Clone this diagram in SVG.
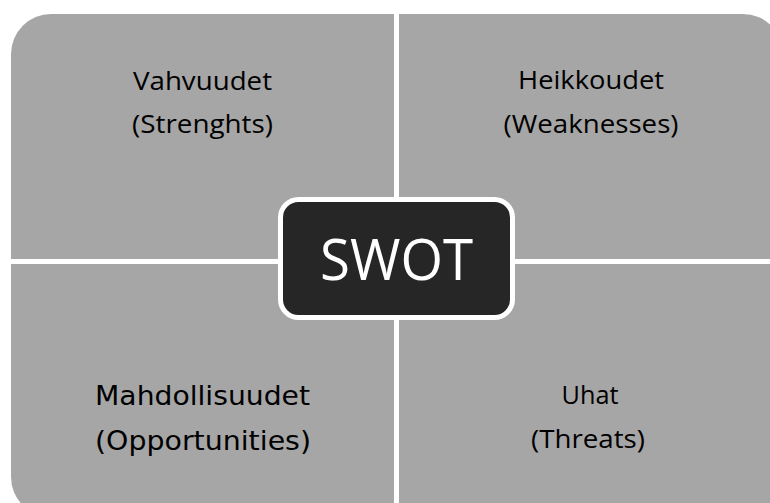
<svg xmlns="http://www.w3.org/2000/svg" width="770" height="503" viewBox="0 0 770 503">
<style>
.q{fill:#A6A6A6;}
.lbl{font-family:"Open Sans","DejaVu Sans",sans-serif;font-size:25px;fill:#000;text-anchor:middle;}
.lbl2{font-family:"DejaVu Sans","Open Sans",sans-serif;font-size:27px;fill:#000;text-anchor:middle;}
.ctr{font-family:"Open Sans","DejaVu Sans",sans-serif;font-size:56px;fill:#fff;text-anchor:middle;}
</style>
<rect width="770" height="503" fill="#fff"/>
<g id="strengths">
<path class="q" d="M11,259 L11,54 A40,40 0 0 1 51,14 L394,14 L394,259 Z"/>
<text class="lbl" x="202.5" y="90" textLength="139" lengthAdjust="spacingAndGlyphs">Vahvuudet</text>
<text class="lbl" x="202.5" y="133" textLength="141" lengthAdjust="spacingAndGlyphs">(Strenghts)</text>
</g>
<g id="weaknesses">
<path class="q" d="M399,14 L743,14 A40,40 0 0 1 783,54 L783,259 L399,259 Z"/>
<text class="lbl" x="591" y="89" textLength="146" lengthAdjust="spacingAndGlyphs">Heikkoudet</text>
<text class="lbl" x="591" y="133" textLength="175" lengthAdjust="spacingAndGlyphs">(Weaknesses)</text>
</g>
<g id="opportunities">
<path class="q" d="M11,264 L394,264 L394,517 L51,517 A40,40 0 0 1 11,477 Z"/>
<text class="lbl2" x="202.5" y="405" textLength="215" lengthAdjust="spacingAndGlyphs">Mahdollisuudet</text>
<text class="lbl2" x="203" y="450" textLength="216" lengthAdjust="spacingAndGlyphs">(Opportunities)</text>
</g>
<g id="threats">
<path class="q" d="M399,264 L783,264 L783,477 A40,40 0 0 1 743,517 L399,517 Z"/>
<text class="lbl" x="590" y="404" textLength="57" lengthAdjust="spacingAndGlyphs">Uhat</text>
<text class="lbl" x="588" y="448" textLength="114" lengthAdjust="spacingAndGlyphs">(Threats)</text>
</g>
<g id="swot">
<rect x="280.5" y="199.5" width="232" height="118" rx="18" ry="18" fill="#262626" stroke="#fff" stroke-width="5"/>
<text class="ctr" x="396.5" y="280" textLength="153" lengthAdjust="spacingAndGlyphs">SWOT</text>
</g>
<g id="connectors"></g>
</svg>
